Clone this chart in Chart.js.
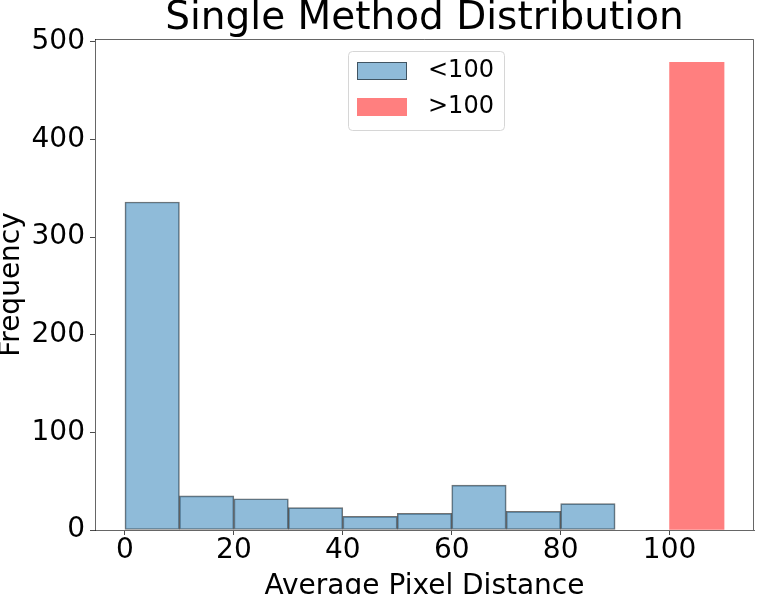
<!DOCTYPE html>
<html>
<head>
<meta charset="utf-8">
<title>Single Method Distribution</title>
<script src="https://cdn.jsdelivr.net/npm/chart.js@4.4.1/dist/chart.umd.min.js"></script>
<style>
  html, body { margin: 0; padding: 0; background: #fff; }
  canvas { display: block; }
</style>
</head>
<body>
<canvas id="myChart" width="758" height="594"></canvas>
<script>
// histogram bins (left edges), width 10
const binWidth = 10;
const lowBins = [0, 10, 20, 30, 40, 50, 60, 70, 80];
const lowCounts = [336, 35, 32, 23, 14, 17, 46, 19, 27];
const highBins = [100];
const highCounts = [479];
const xTicks = [0, 20, 40, 60, 80, 100];
const yTicks = [0, 100, 200, 300, 400, 500];
const titleText = 'Single Method Distribution';

const FONT = "'DejaVu Sans', 'Liberation Sans', sans-serif";

function toPoints (edges, counts) {
    return edges.map((e, i) => ({ x: e + binWidth / 2, y: counts[i] }));
}

// top and right spines, title centred over the plot area
const framePlugin = {
    id: 'frame',
    afterDraw (chart) {
        const { ctx, chartArea: a } = chart;
        ctx.save();
        ctx.strokeStyle = 'rgba(0,0,0,0.6)';
        ctx.lineWidth = 1;
        ctx.beginPath();
        ctx.moveTo(a.left, a.top + 0.5);
        ctx.lineTo(a.right - 0.5, a.top + 0.5);
        ctx.lineTo(a.right - 0.5, a.bottom);
        ctx.stroke();
        ctx.fillStyle = '#000';
        ctx.font = "39px " + FONT;
        ctx.textAlign = 'center';
        ctx.textBaseline = 'alphabetic';
        ctx.fillText(titleText, (a.left + a.right) / 2, 28.5);
        ctx.restore();
    }
};

// matplotlib style legend box inside the plot
const boxLegend = {
    id: 'boxLegend',
    afterDraw (chart) {
        const ctx = chart.ctx;
        const x = 348, y = 51, w = 156, h = 79;
        ctx.save();
        ctx.fillStyle = 'rgba(255,255,255,0.8)';
        ctx.strokeStyle = '#d6d6d6';
        ctx.lineWidth = 1;
        ctx.beginPath();
        ctx.roundRect(x + 0.5, y + 0.5, w, h, 4);
        ctx.fill();
        ctx.stroke();
        chart.data.datasets.forEach((ds, i) => {
            const sy = 62 + i * 36;
            ctx.fillStyle = ds.backgroundColor;
            ctx.fillRect(357, sy, 50, 18);
            if (ds.borderWidth) {
                ctx.strokeStyle = ds.borderColor;
                ctx.lineWidth = 1;
                ctx.strokeRect(357.5, sy + 0.5, 49, 17);
            }
            ctx.fillStyle = '#000';
            ctx.font = "24px " + FONT;
            ctx.textBaseline = 'middle';
            ctx.textAlign = 'left';
            ctx.fillText(ds.label, 428, sy + 9);
        });
        ctx.restore();
    }
};

function main () {
    Chart.defaults.color = '#000';
    const ctx = document.getElementById('myChart').getContext('2d');
    const myChart = new Chart(ctx, {
        type: 'bar',
        data: {
            datasets: [{
                label: '<100',
                data: toPoints(lowBins, lowCounts),
                backgroundColor: 'rgba(31, 119, 180, 0.5)',
                borderColor: 'rgba(0, 0, 0, 0.55)',
                borderWidth: 1,
                borderSkipped: false
            }, {
                label: '>100',
                data: toPoints(highBins, highCounts),
                backgroundColor: 'rgba(255, 0, 0, 0.5)',
                borderColor: 'rgba(255, 0, 0, 0.3)',
                borderWidth: 0,
                borderSkipped: false
            }]
        },
        options: {
            responsive: false,
            animation: false,
            devicePixelRatio: 1,
            grouped: false,
            barPercentage: 1,
            categoryPercentage: 1,
            layout: { padding: { left: 0, right: 4, top: 39, bottom: 0 } },
            plugins: {
                legend: { display: false },
                tooltip: { enabled: false },
                title: { display: false }
            },
            scales: {
                x: {
                    type: 'linear',
                    min: -5.5,
                    max: 115.5,
                    offset: false,
                    afterFit (scale) { scale.height = 64; },
                    afterBuildTicks (scale) { scale.ticks = xTicks.map(v => ({ value: v })); },
                    ticks: {
                        font: { family: FONT, size: 28, lineHeight: 1 },
                        padding: 2,
                        maxRotation: 0,
                        color: '#000'
                    },
                    grid: {
                        offset: false,
                        drawOnChartArea: false,
                        drawTicks: true,
                        tickLength: 5,
                        tickColor: 'rgba(0,0,0,0.7)'
                    },
                    border: { display: true, color: 'rgba(0,0,0,0.6)', width: 1 },
                    title: {
                        display: true,
                        text: 'Average Pixel Distance',
                        font: { family: FONT, size: 28, lineHeight: 1 },
                        padding: { top: 0, bottom: -7 },
                        color: '#000'
                    }
                },
                y: {
                    min: 0,
                    max: 503,
                    afterFit (scale) { scale.width = 95; },
                    afterBuildTicks (scale) { scale.ticks = yTicks.map(v => ({ value: v })); },
                    ticks: {
                        font: { family: FONT, size: 28, lineHeight: 1 },
                        padding: 5,
                        color: '#000'
                    },
                    grid: {
                        drawOnChartArea: false,
                        drawTicks: true,
                        tickLength: 5,
                        tickColor: 'rgba(0,0,0,0.7)'
                    },
                    border: { display: true, color: 'rgba(0,0,0,0.6)', width: 1 },
                    title: {
                        display: true,
                        text: 'Frequency',
                        font: { family: FONT, size: 28, lineHeight: 1 },
                        padding: { top: -2, bottom: 0 },
                        color: '#000'
                    }
                }
            }
        },
        plugins: [framePlugin, boxLegend]
    });
}

window.onload = main;
</script>
</body>
</html>
